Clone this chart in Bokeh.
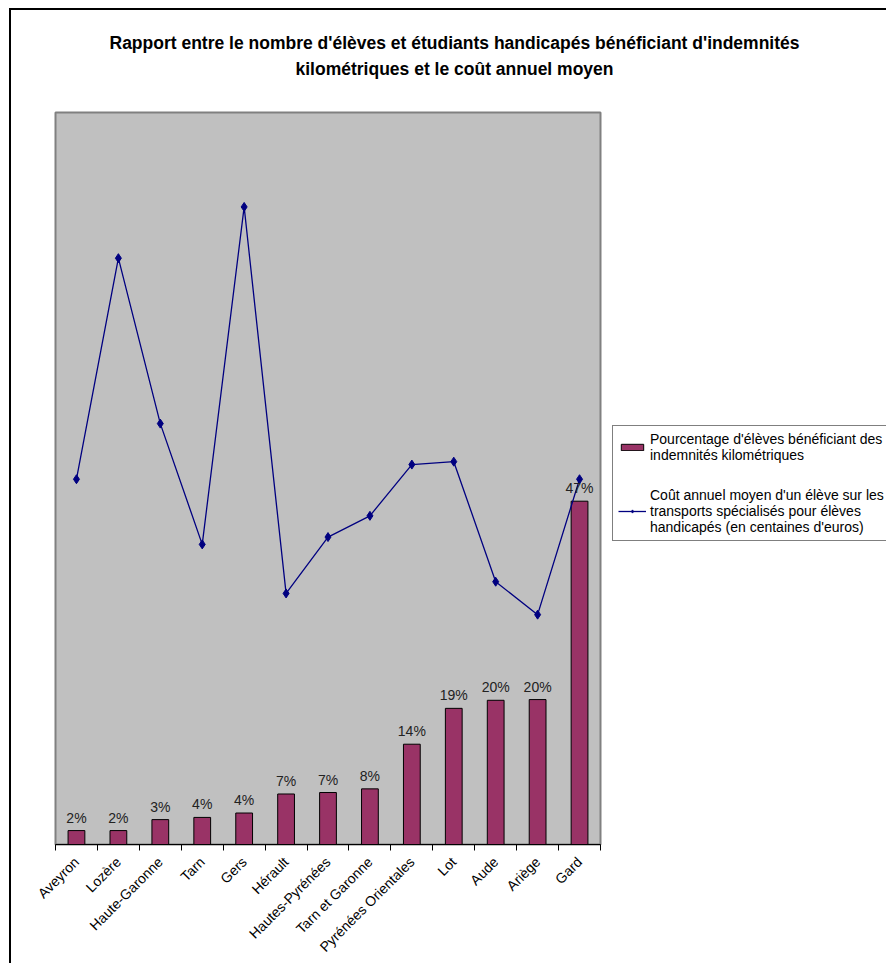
import math
from bokeh.plotting import figure
from bokeh.layouts import column
from bokeh.models import (Range1d, LinearAxis, FixedTicker, Title,
                          Legend, LegendItem, ColumnDataSource, LabelSet)
from bokeh.core.properties import value
from bokeh.embed import file_html
from bokeh.resources import INLINE

categories = ["Aveyron", "Lozère", "Haute-Garonne", "Tarn", "Gers", "Hérault",
              "Hautes-Pyrénées", "Tarn et Garonne", "Pyrénées Orientales", "Lot",
              "Aude", "Ariège", "Gard"]
pct_indemnites = [1.9, 1.9, 3.4, 3.7, 4.3, 6.9, 7.1, 7.6, 13.7, 18.6, 19.7, 19.8, 46.9]
cout_moyen = [49.9, 80.1, 57.5, 41.0, 87.1, 34.3, 42.0, 44.9, 51.9, 52.3, 35.9, 31.4, 49.9]
pct_labels = [f"{v:.0f}%" for v in pct_indemnites]

title_line1 = "Rapport entre le nombre d'élèves et étudiants handicapés bénéficiant d'indemnités"
title_line2 = "kilométriques et le coût annuel moyen"
legend_bar = "Pourcentage d'élèves bénéficiant des\nindemnités kilométriques"
legend_line = ("Coût annuel moyen d'un élève sur les\ntransports spécialisés pour élèves\n"
               "handicapés (en centaines d'euros)")

FONT = "Liberation Sans"
n = len(categories)
idx = list(range(n))
TOTAL_W = 875

# ---- title strip ----
t = figure(width=TOTAL_W, height=100, x_range=Range1d(0, 1), y_range=Range1d(0, 1),
           min_border_left=0, min_border_right=0, min_border_top=70, min_border_bottom=0,
           x_axis_location=None, y_axis_location=None,
           toolbar_location=None, output_backend="svg",
           background_fill_color="white", border_fill_color="white",
           outline_line_color=None)
t.grid.visible = False
t.add_layout(Title(text=title_line2, align="left", offset=240, standoff=3.5,
                   text_font=FONT, text_font_size="17.5px", text_font_style="bold",
                   text_color="black"), "above")
t.add_layout(Title(text=title_line1, align="left", offset=54, standoff=3.5,
                   text_font=FONT, text_font_size="17.5px", text_font_style="bold",
                   text_color="black"), "above")

# ---- chart ----
src = ColumnDataSource(dict(pos=idx, cat=categories, pct=pct_indemnites,
                            cout=cout_moyen, lab=pct_labels))

p = figure(x_range=Range1d(-0.5, n - 0.5),
           y_range=Range1d(0, 100),
           frame_width=545, frame_height=732,
           min_border_left=44, min_border_top=2, min_border_bottom=116, min_border_right=286,
           x_axis_location=None, y_axis_location=None,
           toolbar_location=None, output_backend="svg",
           background_fill_color="#C0C0C0", border_fill_color="white",
           outline_line_color="#808080", outline_line_width=2)
p.grid.visible = False

tick_axis = LinearAxis(ticker=FixedTicker(ticks=[i - 0.5 for i in range(n + 1)]),
                       major_tick_in=0, major_tick_out=6, minor_tick_line_color=None,
                       major_label_text_font_size="1px", major_label_text_color=None,
                       major_label_standoff=0,
                       axis_line_color="black", axis_line_width=1,
                       major_tick_line_color="black")
p.add_layout(tick_axis, "below")
label_axis = LinearAxis(ticker=FixedTicker(ticks=idx),
                        major_label_overrides={i: c for i, c in zip(idx, categories)},
                        axis_line_color=None, major_tick_line_color=None,
                        minor_tick_line_color=None,
                        major_label_orientation=math.pi / 4,
                        major_label_text_font=FONT, major_label_text_font_size="14px",
                        major_label_text_color="black", major_label_standoff=3)
p.add_layout(label_axis, "below")

bars = p.vbar(x="pos", top="pct", width=0.4, source=src, fill_color="#993366",
              line_color="black", line_width=1)
labels = LabelSet(x="pos", y="pct", text="lab", source=src, y_offset=8,
                  text_align="center", text_baseline="alphabetic",
                  text_font=value(FONT), text_font_size="14px", text_color="#222222")
p.add_layout(labels)

line = p.line(x="pos", y="cout", source=src, line_color="#000080", line_width=1.3)
pts = p.scatter(x="pos", y="cout", source=src, marker="diamond", size=9,
                fill_color="#000080", line_color="#000080")

legend = Legend(items=[LegendItem(label=legend_bar, renderers=[bars]),
                       LegendItem(label=legend_line, renderers=[line, pts])],
                location=(12, 303), border_line_color="black", border_line_width=1,
                label_text_font=FONT, label_text_font_size="14px",
                label_text_color="black", label_text_line_height=1.25,
                glyph_width=28, glyph_height=8, spacing=24, padding=5,
                label_standoff=4, margin=0, background_fill_color="white")
p.add_layout(legend, "right")

layout = column(t, p, spacing=0,
                styles={"border-left": "2px solid black", "border-top": "2px solid black",
                        "margin-left": "9px", "margin-top": "8px"})

open("out.html", "w").write(file_html(layout, INLINE))
